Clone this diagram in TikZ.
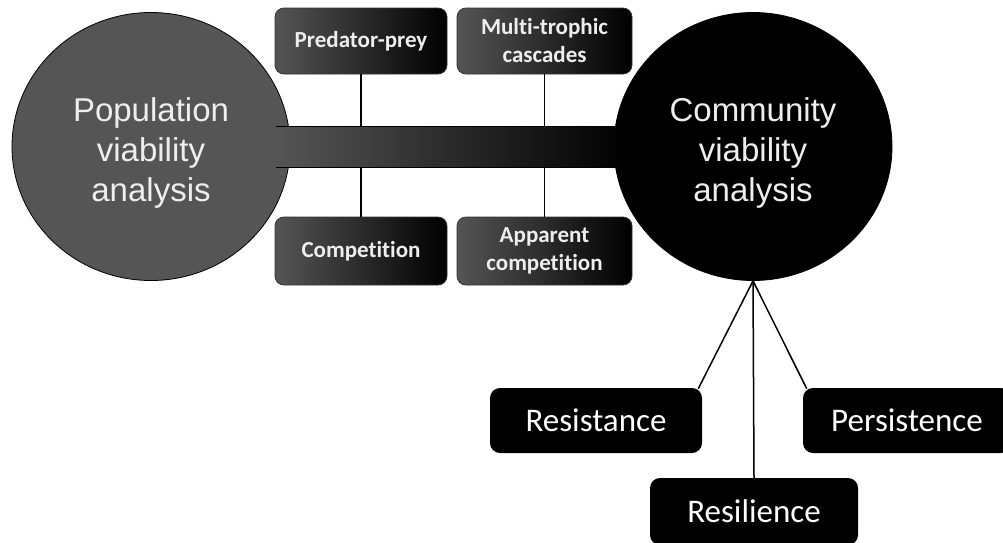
\documentclass[tikz,border=0pt]{standalone}
\usepackage{fontspec}
\setmainfont{Liberation Sans}
\newfontfamily\boxfont[Ligatures=NoCommon]{Carlito}
\usetikzlibrary{calc,shapes.geometric}
\definecolor{pvagray}{HTML}{555555}
\definecolor{txtlight}{HTML}{EEEEEE}
\tikzset{
  bigcircle/.style={ellipse, draw=black, line width=0.8pt, minimum width=278pt,
    minimum height=268pt, inner sep=0pt},
  circletext/.style={text=txtlight, align=center, inner sep=0pt,
    font=\fontsize{33}{40}\selectfont},
  linkbox/.style={rectangle, rounded corners=9pt, draw=black!80, line width=0.8pt,
    left color=pvagray, right color=black, text=txtlight, align=center,
    font=\boxfont\bfseries\fontsize{23}{28}\selectfont},
  propbox/.style={rectangle, rounded corners=10pt, fill=black, text=white,
    align=center, minimum height=65pt, font=\boxfont\fontsize{33}{36}\selectfont},
  wire/.style={draw=black, line width=1.5pt},
}
\begin{document}
\begin{tikzpicture}[x=1pt,y=-1pt]
\useasboundingbox (0,0) rectangle (1003,542);
\clip (0,0) rectangle (1003,542);

% the two viability analyses
\node[bigcircle, fill=pvagray] (pva) at (151,146.5) {};
\node[bigcircle, fill=black] (cva) at (753,146.5) {};

% shaded bar joining them
\node[rectangle, minimum width=350pt, minimum height=40pt, inner sep=0pt,
  left color=pvagray, right color=black] (bar) at (451,147) {};
\draw[black, line width=0.8pt] (bar.north west) -- (bar.north east)
  (bar.south west) -- (bar.south east);

\node[circletext] (pvatext) at ($(pva.center)+(0,6)$) {Population\\viability\\analysis};
\node[circletext] (cvatext) at ($(cva.center)+(0,6)$) {Community\\viability\\analysis};

% interaction types
\node[linkbox, minimum width=172pt, minimum height=66pt] (pp) at (361,41) {Predator-prey};
\node[linkbox, minimum width=175pt, minimum height=66pt] (mt) at (544.5,41) {Multi-trophic\\cascades};
\node[linkbox, minimum width=172pt, minimum height=68pt] (comp) at (361,251) {Competition};
\node[linkbox, minimum width=175pt, minimum height=68pt] (app) at (544.5,251) {Apparent\\competition};

\draw[wire] (pp.south) -- (pp.south |- bar.north);
\draw[wire] (mt.south) -- (mt.south |- bar.north);
\draw[wire] (comp.north) -- (comp.north |- bar.south);
\draw[wire] (app.north) -- (app.north |- bar.south);

% community properties
\node[propbox, minimum width=212pt] (resist) at (596,420.5) {Resistance};
\node[propbox, minimum width=208pt] (persist) at (907,420.5) {Persistence};
\node[propbox, minimum width=208pt, minimum height=67pt] (resil) at (754,511.5) {Resilience};

\draw[wire] (cva.south) -- ($(resist.north east)+(-4,1)$);
\draw[wire] (cva.south) -- (resil.north);
\draw[wire] (cva.south) -- ($(persist.north west)+(4,1)$);
\end{tikzpicture}
\end{document}
